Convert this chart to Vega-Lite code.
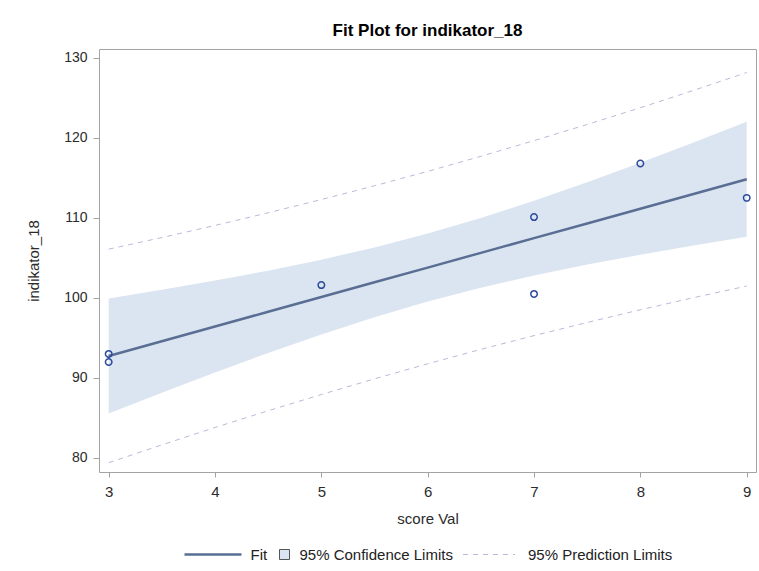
{
  "$schema": "https://vega.github.io/schema/vega-lite/v6.json",
  "width": 657,
  "height": 423,
  "autosize": {"type": "none"},
  "padding": {"left": 99, "top": 49, "right": 3, "bottom": 99},
  "background": "white",
  "title": {"text": "Fit Plot for indikator_18", "fontSize": 17, "fontWeight": "bold", "font": "Liberation Sans", "color": "#000000", "offset": 9, "anchor": "middle"},
  "datasets": {
    "obs": [
      {"scoreVal": 3, "indikator_18": 93.0},
      {"scoreVal": 3, "indikator_18": 92.0},
      {"scoreVal": 5, "indikator_18": 101.6},
      {"scoreVal": 7, "indikator_18": 110.1},
      {"scoreVal": 7, "indikator_18": 100.5},
      {"scoreVal": 8, "indikator_18": 116.8},
      {"scoreVal": 9, "indikator_18": 112.5}
    ],
    "fit": [
      {"scoreVal": 3.0, "fit": 92.75, "ciLo": 85.57, "ciHi": 99.93, "piLo": 79.41, "piHi": 106.09},
      {"scoreVal": 3.5, "fit": 94.59, "ciLo": 88.16, "ciHi": 101.02, "piLo": 81.64, "piHi": 107.54},
      {"scoreVal": 4.0, "fit": 96.43, "ciLo": 90.69, "ciHi": 102.17, "piLo": 83.81, "piHi": 109.05},
      {"scoreVal": 4.5, "fit": 98.27, "ciLo": 93.13, "ciHi": 103.41, "piLo": 85.90, "piHi": 110.64},
      {"scoreVal": 5.0, "fit": 100.11, "ciLo": 95.44, "ciHi": 104.78, "piLo": 87.93, "piHi": 112.29},
      {"scoreVal": 5.5, "fit": 101.95, "ciLo": 97.59, "ciHi": 106.31, "piLo": 89.89, "piHi": 114.01},
      {"scoreVal": 6.0, "fit": 103.79, "ciLo": 99.54, "ciHi": 108.04, "piLo": 91.77, "piHi": 115.81},
      {"scoreVal": 6.5, "fit": 105.63, "ciLo": 101.27, "ciHi": 109.99, "piLo": 93.57, "piHi": 117.69},
      {"scoreVal": 7.0, "fit": 107.47, "ciLo": 102.80, "ciHi": 112.14, "piLo": 95.29, "piHi": 119.65},
      {"scoreVal": 7.5, "fit": 109.30, "ciLo": 104.16, "ciHi": 114.44, "piLo": 96.93, "piHi": 121.67},
      {"scoreVal": 8.0, "fit": 111.14, "ciLo": 105.40, "ciHi": 116.88, "piLo": 98.52, "piHi": 123.76},
      {"scoreVal": 8.5, "fit": 112.98, "ciLo": 106.55, "ciHi": 119.41, "piLo": 100.03, "piHi": 125.93},
      {"scoreVal": 9.0, "fit": 114.82, "ciLo": 107.64, "ciHi": 122.00, "piLo": 101.48, "piHi": 128.16}
    ]
  },
  "config": {
    "font": "Liberation Sans",
    "view": {"stroke": "#a3a3a3", "strokeWidth": 1},
    "axis": {
      "domain": false,
      "grid": false,
      "tickColor": "#a3a3a3",
      "labelColor": "#2b2b2b",
      "titleColor": "#2b2b2b",
      "labelFont": "Liberation Sans",
      "titleFont": "Liberation Sans",
      "titleFontWeight": "normal"
    },
    "legend": {
      "layout": {"bottom": {"anchor": "middle", "margin": 9, "center": true}},
      "orient": "bottom",
      "direction": "horizontal",
      "padding": 0,
      "offset": 21,
      "labelFontSize": 15,
      "labelColor": "#222222",
      "labelFont": "Liberation Sans",
      "symbolSize": 100
    }
  },
  "layer": [
    {
      "data": {"name": "fit"},
      "mark": {"type": "line", "strokeWidth": 2.5},
      "encoding": {
        "x": {"field": "scoreVal", "type": "quantitative",
          "scale": {"domain": [2.909, 9.0875], "nice": false, "zero": false},
          "axis": {"values": [3, 4, 5, 6, 7, 8, 9], "title": "score Val", "tickSize": 5, "labelPadding": 7, "labelFontSize": 15, "titleFontSize": 15, "titlePadding": 12, "format": "d"}},
        "y": {"field": "fit", "type": "quantitative",
          "scale": {"domain": [78.25, 131.1], "nice": false, "zero": false},
          "axis": {"values": [80, 90, 100, 110, 120, 130], "title": "indikator_18", "tickSize": 6, "labelPadding": 6, "labelFontSize": 14, "titleFontSize": 15, "titlePadding": 22, "format": "d"}},
        "color": {"datum": "Fit", "type": "nominal",
          "scale": {"range": ["#5a6e93"]},
          "legend": {"title": null, "symbolType": "M-1.2,0H10.2", "symbolStrokeWidth": 2.5, "labelOffset": 52.5}}
      }
    },
    {
      "data": {"name": "fit"},
      "mark": {"type": "area", "opacity": 1},
      "encoding": {
        "x": {"field": "scoreVal", "type": "quantitative"},
        "y": {"field": "ciLo", "type": "quantitative"},
        "y2": {"field": "ciHi"},
        "fill": {"datum": "95% Confidence Limits", "type": "nominal",
          "scale": {"range": ["#dbe5f1"]},
          "legend": {"title": null, "symbolType": "square", "symbolStrokeColor": "#555555", "symbolStrokeWidth": 1, "labelOffset": 7.5}}
      }
    },
    {
      "data": {"name": "fit"},
      "mark": {"type": "line", "strokeWidth": 1, "color": "#bcb8d8"},
      "encoding": {
        "x": {"field": "scoreVal", "type": "quantitative"},
        "y": {"field": "piLo", "type": "quantitative"},
        "strokeDash": {"datum": "95% Prediction Limits", "type": "nominal",
          "scale": {"range": [[5, 5]]},
          "legend": {"title": null, "symbolType": "M-1.3,0H9.1", "symbolStrokeColor": "#bcb8d8", "symbolStrokeWidth": 1, "labelOffset": 51}}
      }
    },
    {
      "data": {"name": "fit"},
      "mark": {"type": "line", "strokeWidth": 1, "color": "#bcb8d8"},
      "encoding": {
        "x": {"field": "scoreVal", "type": "quantitative"},
        "y": {"field": "piHi", "type": "quantitative"},
        "strokeDash": {"datum": "95% Prediction Limits", "type": "nominal",
          "legend": {"title": null, "symbolType": "M-1.3,0H9.1", "symbolStrokeColor": "#bcb8d8", "symbolStrokeWidth": 1, "labelOffset": 51}}
      }
    },
    {
      "data": {"name": "fit"},
      "mark": {"type": "line", "strokeWidth": 2.5},
      "encoding": {
        "x": {"field": "scoreVal", "type": "quantitative"},
        "y": {"field": "fit", "type": "quantitative"},
        "color": {"datum": "Fit", "type": "nominal",
          "legend": {"title": null, "symbolType": "M-1.2,0H10.2", "symbolStrokeWidth": 2.5, "labelOffset": 52.5}}
      }
    },
    {
      "data": {"name": "obs"},
      "mark": {"type": "point", "shape": "circle", "filled": false, "size": 42, "strokeWidth": 1.5, "color": "#2b4a9c", "opacity": 1},
      "encoding": {
        "x": {"field": "scoreVal", "type": "quantitative"},
        "y": {"field": "indikator_18", "type": "quantitative"}
      }
    }
  ]
}
